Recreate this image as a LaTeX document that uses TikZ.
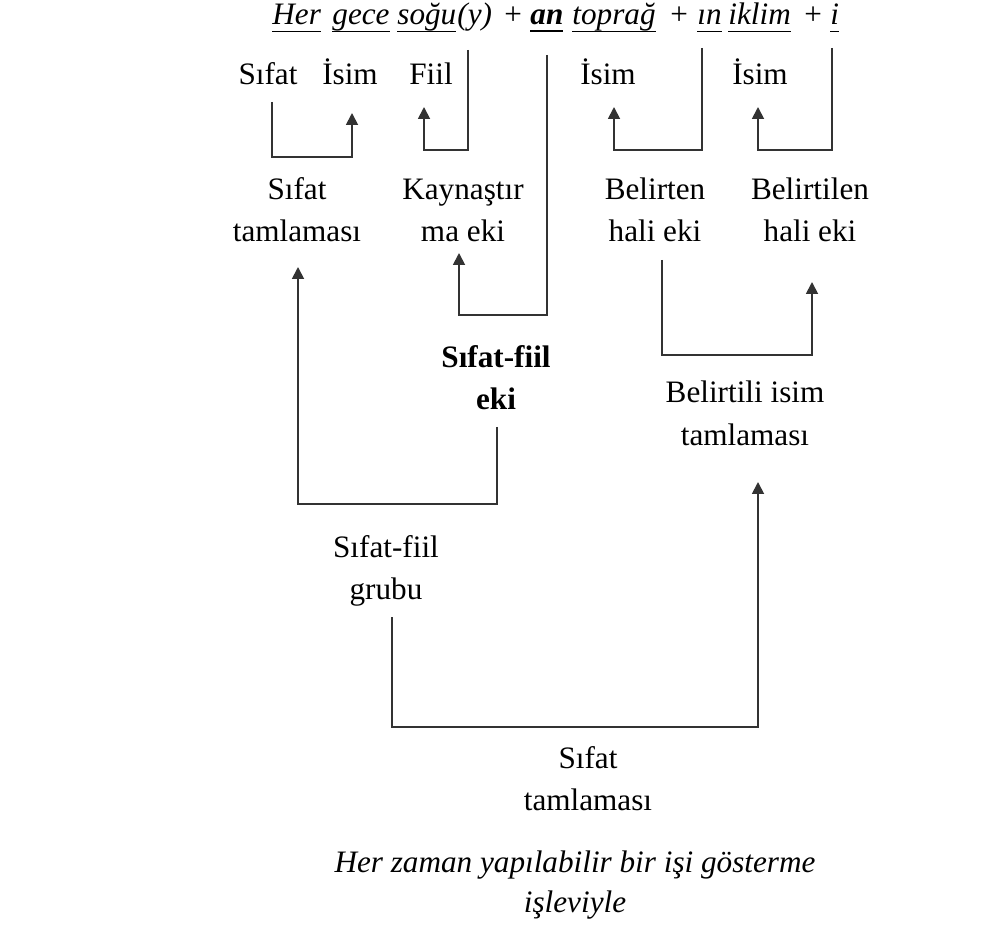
\documentclass[tikz,border=0pt]{standalone}
\usepackage{fontspec}
\setmainfont{Liberation Serif}
\usetikzlibrary{arrows.meta}
\newlength\undrwd
\newcommand{\undr}[2][0.6pt]{\settowidth{\undrwd}{#2}\rlap{\rule[-3.5pt]{\undrwd}{#1}}#2}
\tikzset{
  textnode/.style = {inner sep=0pt, font=\fontsize{15.6}{21}\selectfont},
  lbl_n/.style = {textnode, align=center, anchor=base},
  wrd_n/.style = {textnode, anchor=base west,
    font=\fontsize{15.6}{21}\selectfont\itshape},
  conn/.style = {draw=black!80, line width=0.9pt}}

\begin{document}
\begin{tikzpicture}[x=0.5pt, y=-0.5pt, ->, >={Triangle[width=6pt,length=6pt]}]
\useasboundingbox (0,0) rectangle (981,925);

\node[wrd_n] (her) at (272,25) {\undr{Her}};
\node[wrd_n] (gece) at (332,25) {\undr{gece}};
\node[wrd_n] (sogu) at (397,25) {\undr{soğu}};
\node[wrd_n] (y) at (457,25) {(y)};
\node[wrd_n] (plusa) at (502,25) {+};
\node[wrd_n] (an) at (530,25) {\bfseries\undr[1.1pt]{an}};
\node[wrd_n] (toprag) at (572,25) {\undr{toprağ}};
\node[wrd_n] (plusb) at (668,25) {+};
\node[wrd_n] (in) at (697,25) {\undr{ın}};
\node[wrd_n] (iklim) at (728,25) {\undr{iklim}};
\node[wrd_n] (plusc) at (802,25) {+};
\node[wrd_n] (i) at (830,25) {\undr{i}};

\node[lbl_n] (sifat) at (268,85) {Sıfat};
\node[lbl_n] (isima) at (350,85) {İsim};
\node[lbl_n] (fiil) at (431,85) {Fiil};
\node[lbl_n] (isimb) at (608,85) {İsim};
\node[lbl_n] (isimc) at (760,85) {İsim};

\node[lbl_n] (sifattam) at (297,242) {Sıfat\\tamlaması};
\node[lbl_n] (kaynas) at (463,242) {Kaynaştır\\ma eki};
\node[lbl_n] (belirten) at (655,242) {Belirten\\hali eki};
\node[lbl_n] (belirtilen) at (810,242) {Belirtilen\\hali eki};
\node[lbl_n, font=\fontsize{15.6}{21}\selectfont\bfseries] (sfeki) at (496,410) {Sıfat-fiil\\eki};
\node[lbl_n] (belirtili) at (745,445) {Belirtili isim\\tamlaması};
\node[lbl_n] (grubu) at (386,599) {Sıfat-fiil\\grubu};
\node[lbl_n] (sifattamb) at (588,810) {Sıfat\\tamlaması};
\node[lbl_n, font=\fontsize{15.6}{20}\selectfont\itshape] (note) at (575,912)
  {Her zaman yapılabilir bir işi gösterme\\işleviyle};

\draw[conn] (sifat.base) ++(4,17) -- ++(0,55) -| ([shift={(2,28)}]isima.base);
\draw[conn] (sogu.base east) ++(11,25) -- ++(0,100) -| ([shift={(-7,22)}]fiil.base);
\draw[conn] (an.base) ++(0,30) -- ++(0,260) -| ([shift={(-4,11)}]kaynas.base);
\draw[conn] (in.base west) ++(5,23) -- ++(0,102) -| ([shift={(6,22)}]isimb.base);
\draw[conn] (i.base) ++(-3,23) -- ++(0,102) -| ([shift={(-2,22)}]isimc.base);
\draw[conn] (sfeki.base) ++(1,17) -- ++(0,77) -| ([shift={(1,25)}]sifattam.base);
\draw[conn] (belirten.base) ++(7,18) -- ++(0,95) -| ([shift={(2,40)}]belirtilen.base);
\draw[conn] (grubu.base) ++(6,18) -- ++(0,110) -| ([shift={(13,37)}]belirtili.base);
\end{tikzpicture}
\end{document}
